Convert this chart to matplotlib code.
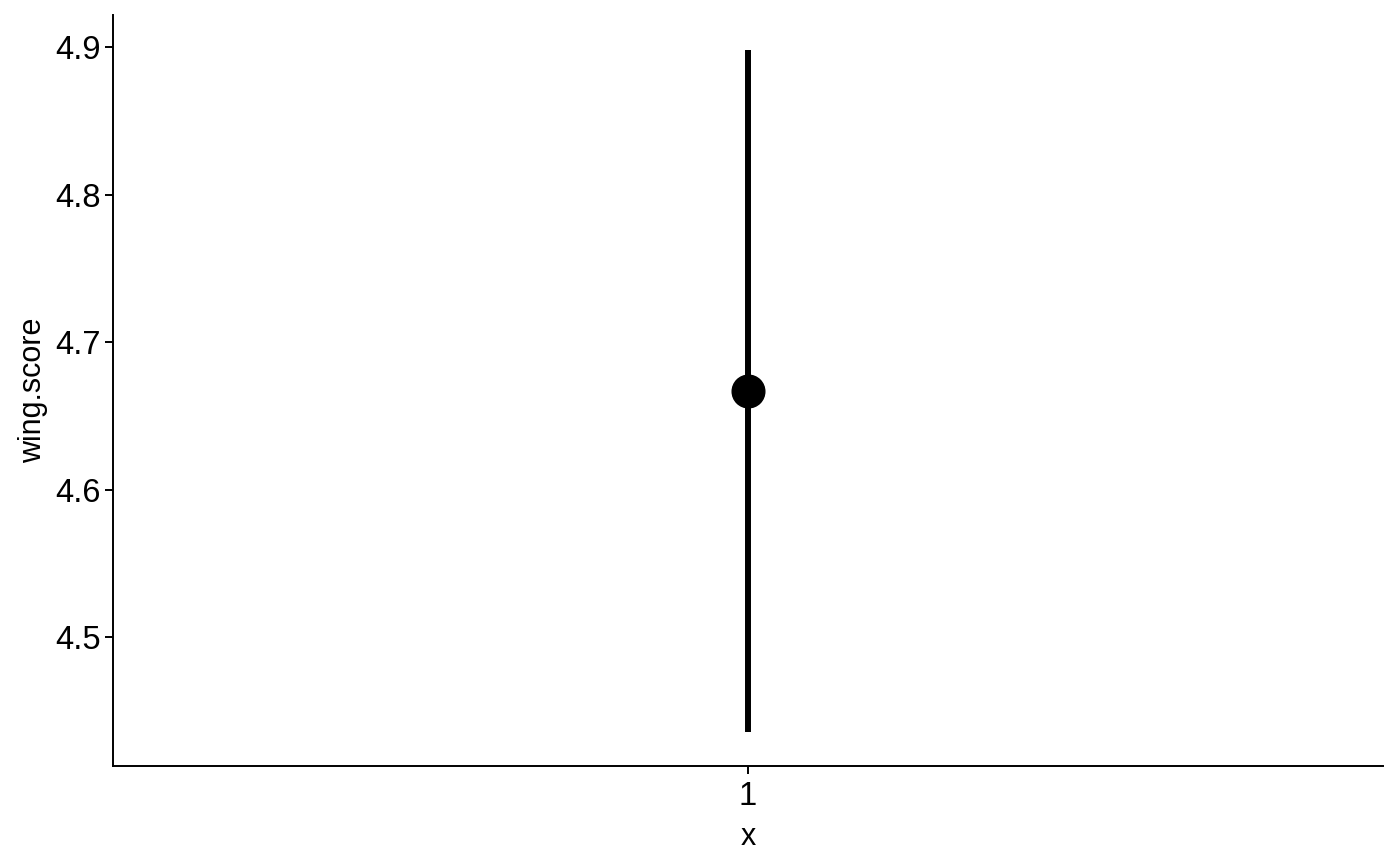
import numpy as np
import matplotlib
matplotlib.use("Agg")
import matplotlib.pyplot as plt

plt.rcParams['font.family'] = ['Liberation Sans', 'DejaVu Sans']

# summary values
categories = ["1"]
means = [4.667]
lower = [4.436]
upper = [4.898]
y_ticks = [4.5, 4.6, 4.7, 4.8, 4.9]

fig = plt.figure(figsize=(14, 8.65), dpi=100)
ax = fig.add_axes([0.0807, 0.11445, 0.9071, 0.86821])

xpos = np.arange(1, len(categories) + 1)
ax.vlines(xpos, lower, upper, color='black', linewidth=4.3)
ax.plot(xpos, means, 'o', color='black', markersize=23.5)

ax.set_xlim(0.4, len(categories) + 0.6)
ax.set_ylim(4.4128, 4.9217)
ax.set_xticks(xpos)
ax.set_xticklabels(categories)
ax.set_yticks(y_ticks)
ax.set_yticklabels([f"{t:.1f}" for t in y_ticks])

for side in ['top', 'right']:
    ax.spines[side].set_visible(False)
for side in ['left', 'bottom']:
    ax.spines[side].set_linewidth(1.4)

ax.tick_params(axis='both', length=5.8, width=1.4, labelsize=23.5, colors='black', pad=3)
ax.tick_params(axis='x', pad=5)
ax.set_xlabel("x", fontsize=22, labelpad=7)
ax.set_ylabel("wing.score", fontsize=22, labelpad=5)

fig.savefig("out.png", dpi=100)
